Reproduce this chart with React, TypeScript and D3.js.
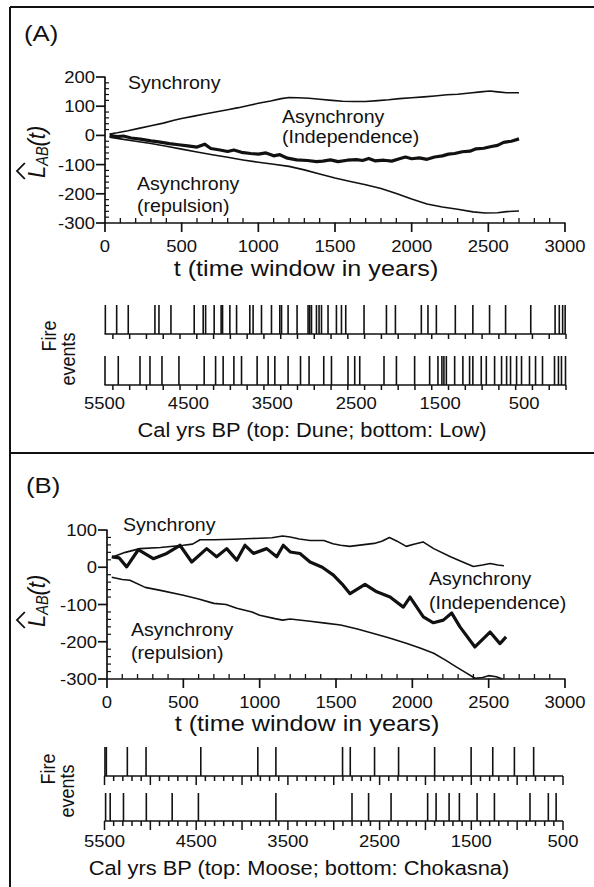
import React from 'react';
import * as d3 from 'd3';

const FONT = '"Liberation Sans", Arial, Helvetica, sans-serif';
const SX = 1.12;
const INK = '#111';

// ---------- Panel A data ----------
const aSynchrony: [number, number][] = [[30,5],[80,9],[150,16],[220,24],[300,33],[380,42],[450,52],[500,58],[580,66],[650,73],[720,80],[800,88],[870,95],[950,104],[1000,110],[1080,118],[1150,126],[1200,130],[1260,129],[1330,127],[1400,124],[1480,120],[1550,117],[1620,116],[1700,116],[1780,119],[1850,122],[1920,126],[2000,129],[2080,132],[2150,135],[2230,139],[2300,141],[2380,145],[2450,149],[2510,152],[2560,149],[2620,146],[2700,146]];
const aIndependence: [number, number][] = [[30,0],[80,-4],[120,-2],[170,-9],[230,-13],[300,-19],[350,-22],[420,-28],[480,-32],[540,-36],[600,-40],[650,-30],[690,-45],[750,-50],[800,-55],[840,-50],[890,-58],[950,-62],[1000,-64],[1050,-60],[1100,-70],[1140,-66],[1190,-78],[1250,-84],[1320,-86],[1380,-90],[1420,-88],[1470,-84],[1520,-90],[1580,-85],[1640,-83],[1680,-86],[1720,-79],[1760,-87],[1820,-85],[1870,-88],[1920,-80],[1960,-74],[2000,-80],[2050,-77],[2100,-82],[2150,-74],[2200,-70],[2240,-64],[2280,-62],[2330,-56],[2380,-54],[2420,-46],[2470,-44],[2520,-38],[2560,-34],[2600,-24],[2650,-20],[2700,-12]];
const aRepulsion: [number, number][] = [[30,-6],[100,-12],[200,-20],[300,-28],[400,-37],[500,-47],[600,-57],[700,-66],[800,-75],[900,-84],[1000,-92],[1100,-99],[1200,-106],[1300,-118],[1400,-132],[1500,-146],[1600,-158],[1700,-169],[1800,-182],[1900,-199],[2000,-218],[2100,-235],[2200,-245],[2300,-253],[2400,-262],[2480,-266],[2560,-265],[2620,-261],[2700,-259]];

// ---------- Panel B data ----------
const bSynchrony: [number, number][] = [[40,28],[120,40],[216,50],[350,53],[500,59],[560,62],[610,74],[700,74],[830,75],[950,77],[1080,79],[1150,84],[1200,81],[1260,76],[1330,72],[1420,72],[1480,63],[1530,59],[1590,56],[1670,60],[1750,64],[1800,70],[1850,80],[1900,70],[1960,56],[2010,62],[2070,68],[2140,50],[2250,28],[2330,14],[2400,2],[2460,6],[2510,10],[2560,6],[2600,4]];
const bIndependence: [number, number][] = [[31,28],[80,25],[129,1],[205,47],[303,23],[391,37],[478,59],[555,14],[653,50],[718,28],[784,50],[850,19],[904,59],[959,37],[1046,50],[1112,28],[1155,59],[1200,41],[1264,37],[1330,14],[1410,0],[1483,-21],[1540,-45],[1592,-71],[1690,-46],[1767,-66],[1854,-80],[1941,-107],[1985,-80],[2072,-133],[2138,-149],[2203,-142],[2258,-123],[2312,-160],[2410,-214],[2509,-174],[2574,-205],[2614,-187]];
const bRepulsion: [number, number][] = [[31,-27],[100,-33],[150,-35],[250,-54],[350,-62],[500,-75],[600,-85],[700,-97],[780,-100],[850,-110],[950,-120],[1000,-129],[1100,-138],[1150,-142],[1200,-139],[1330,-145],[1430,-150],[1530,-155],[1640,-166],[1740,-177],[1850,-190],[1960,-204],[2050,-217],[2140,-231],[2220,-250],[2290,-268],[2350,-283],[2410,-298],[2460,-296],[2500,-291],[2550,-294],[2590,-300]];

// ---------- Fire events (cal yrs BP) ----------
const duneEvents = [5490,5355,5217,4899,4851,4708,4431,4324,4295,4193,4110,4093,4006,3926,3768,3729,3629,3510,3411,3390,3312,3205,3074,3054,3033,2974,2943,2914,2836,2736,2676,2625,2407,2140,2033,1724,1645,1545,1319,1110,911,720,420,130,80,40,10];
const lowEvents = [5494,5336,5077,4958,4815,4613,4312,4176,4086,3958,3867,3681,3550,3470,3312,3164,3062,2887,2795,2598,2518,2458,2169,2021,1804,1625,1526,1479,1455,1426,1327,1229,1149,1110,1010,950,851,768,708,661,589,530,435,363,280,137,90,54,6];
const mooseEvents = [5495,5480,5251,5047,4450,3828,3631,2904,2820,2555,2293,1900,1502,1266,1030,820];
const chokasnaEvents = [5488,5438,5293,5044,4762,4476,3631,2801,2620,2375,1976,1884,1742,1630,1437,1248,860,660,575];

// ---------- Tick labels ----------
const tTicks = [0, 500, 1000, 1500, 2000, 2500, 3000];
const aYTicks = [200, 100, 0, -100, -200, -300];
const bYTicks = [100, 0, -100, -200, -300];
const bpTicks = [5500, 4500, 3500, 2500, 1500, 500];

function Txt({ x, y, size, anchor = 'start', children }: any) {
  return (
    <text transform={`translate(${x},${y}) scale(${SX},1)`} fontSize={size} textAnchor={anchor} fontFamily={FONT} fill={INK}>
      {children}
    </text>
  );
}

function VTxt({ x, y, size, children }: any) {
  return (
    <text transform={`translate(${x},${y}) scale(${SX},1) rotate(-90)`} fontSize={size} textAnchor="middle" fontFamily={FONT} fill={INK}>
      {children}
    </text>
  );
}

function YLabel({ x, y }: any) {
  return (
    <g transform={`translate(${x},${y}) scale(${SX},1) rotate(-90)`}>
      <text x={-26} y={0} fontSize={22} fontStyle="italic" fontFamily={FONT} fill={INK}>
        L<tspan fontSize={14.5} dy={3}>AB</tspan><tspan dy={-3}>(t)</tspan>
      </text>
      <path d="M -27 -18 L -19 -25 L -11 -18" fill="none" stroke={INK} strokeWidth={1.7} />
    </g>
  );
}

function LPlot({ x, y, yTicks, yMinorStep, sync, indep, rep }: any) {
  const [x0, x1] = x.range();
  const [y0, y1] = y.range();
  const line = d3.line<[number, number]>().x((d) => x(d[0])).y((d) => y(d[1]));
  const minorX = d3.range(0, 3001, 100).filter((v) => v % 500 !== 0);
  const yd = y.domain();
  const minorY = d3.range(yd[0], yd[1] + 1, yMinorStep).filter((v) => v % 100 !== 0);
  return (
    <g>
      <path d={line(rep) || ''} fill="none" stroke={INK} strokeWidth={1.6} strokeLinejoin="round" />
      <path d={line(sync) || ''} fill="none" stroke={INK} strokeWidth={1.6} strokeLinejoin="round" />
      <path d={line(indep) || ''} fill="none" stroke={INK} strokeWidth={3.2} strokeLinejoin="round" />
      <line x1={x0} x2={x1} y1={y0} y2={y0} stroke={INK} strokeWidth={1.7} />
      {tTicks.map((t) => (
        <g key={'xt' + t}>
          <line x1={x(t)} x2={x(t)} y1={y0 - 0.5} y2={y0 + 9} stroke={INK} strokeWidth={1.7} />
          <Txt x={x(t)} y={y0 + 29} size={16.5} anchor="middle">{t}</Txt>
        </g>
      ))}
      {minorX.map((t) => (
        <line key={'xm' + t} x1={x(t)} x2={x(t)} y1={y0} y2={y0 - 5} stroke={INK} strokeWidth={1.3} />
      ))}
      <line x1={x0} x2={x0} y1={y0} y2={y1} stroke={INK} strokeWidth={1.7} />
      {yTicks.map((v: number) => (
        <g key={'yt' + v}>
          <line x1={x0 - 9} x2={x0 + 0.5} y1={y(v)} y2={y(v)} stroke={INK} strokeWidth={1.7} />
          <Txt x={x0 - 10} y={y(v) + 6} size={16.5} anchor="end">{v}</Txt>
        </g>
      ))}
      {minorY.map((v: number) => (
        <line key={'ym' + v} x1={x0} x2={x0 + 4} y1={y(v)} y2={y(v)} stroke={INK} strokeWidth={1.2} />
      ))}
    </g>
  );
}

function FireRow({ fx, base, h, events, minorStep, midStep }: any) {
  const d = fx.domain();
  const hi = d[0], lo = d[1];
  const ticks = d3.range(lo, hi + 1, minorStep);
  return (
    <g>
      <line x1={fx(hi)} x2={fx(lo)} y1={base} y2={base} stroke={INK} strokeWidth={1.7} />
      {ticks.map((v: number) => {
        const major = (hi - v) % midStep === 0;
        return <line key={'ft' + v} x1={fx(v)} x2={fx(v)} y1={base} y2={base + (major ? 9 : 5)} stroke={INK} strokeWidth={1.5} />;
      })}
      {events.map((v: number, i: number) => (
        <line key={'ev' + i} x1={fx(v)} x2={fx(v)} y1={base} y2={base - h} stroke={INK} strokeWidth={1.6} />
      ))}
    </g>
  );
}

export default function App() {
  if (typeof document !== 'undefined') document.body.style.margin = '0';
  const xA = d3.scaleLinear().domain([0, 3000]).range([105, 565]);
  const yA = d3.scaleLinear().domain([-300, 200]).range([223, 77]);
  const xB = d3.scaleLinear().domain([0, 3000]).range([107, 565]);
  const yB = d3.scaleLinear().domain([-300, 100]).range([679, 530]);
  const fA = d3.scaleLinear().domain([5500, 0]).range([104.5, 566]);
  const fB = d3.scaleLinear().domain([5500, 500]).range([104.5, 563]);

  return (
    <svg width={594} height={887} style={{ position: 'absolute', left: 0, top: 0, display: 'block', background: '#fff' }}>
      <rect x={0} y={0} width={594} height={887} fill="#fff" />
      <line x1={10} x2={594} y1={7} y2={7} stroke={INK} strokeWidth={2} />
      <line x1={10} x2={10} y1={7} y2={887} stroke={INK} strokeWidth={2} />
      <line x1={10} x2={594} y1={453} y2={453} stroke={INK} strokeWidth={2} />

      {/* ===== Panel A ===== */}
      <Txt x={24} y={41} size={23}>(A)</Txt>
      <LPlot x={xA} y={yA} yTicks={aYTicks} yMinorStep={20} sync={aSynchrony} indep={aIndependence} rep={aRepulsion} />
      <YLabel x={45} y={152} />
      <Txt x={128} y={89} size={17.5}>Synchrony</Txt>
      <Txt x={282} y={123} size={17.5}>Asynchrony</Txt>
      <Txt x={282} y={143} size={17.5}>(Independence)</Txt>
      <Txt x={137} y={190} size={17.5}>Asynchrony</Txt>
      <Txt x={137} y={212} size={17.5}>(repulsion)</Txt>
      <Txt x={306} y={276} size={22.5} anchor="middle">t (time window in years)</Txt>

      <FireRow fx={fA} base={334} h={29} events={duneEvents} minorStep={200} midStep={1000} />
      <FireRow fx={fA} base={385} h={29} events={lowEvents} minorStep={200} midStep={1000} />
      {bpTicks.map((v) => (
        <Txt key={'fa' + v} x={fA(v)} y={409} size={16.5} anchor="middle">{v}</Txt>
      ))}
      <VTxt x={56} y={336} size={18}>Fire</VTxt>
      <VTxt x={75} y={359} size={18}>events</VTxt>
      <Txt x={312} y={437} size={19.5} anchor="middle">Cal yrs BP (top: Dune; bottom: Low)</Txt>

      {/* ===== Panel B ===== */}
      <Txt x={26} y={493} size={23}>(B)</Txt>
      <LPlot x={xB} y={yB} yTicks={bYTicks} yMinorStep={20} sync={bSynchrony} indep={bIndependence} rep={bRepulsion} />
      <YLabel x={45} y={601} />
      <Txt x={123} y={531} size={17.5}>Synchrony</Txt>
      <Txt x={131} y={636} size={17.5}>Asynchrony</Txt>
      <Txt x={131} y={659} size={17.5}>(repulsion)</Txt>
      <Txt x={429} y={585} size={17.5}>Asynchrony</Txt>
      <Txt x={429} y={609} size={17.5}>(Independence)</Txt>
      <Txt x={307} y={731} size={22.5} anchor="middle">t (time window in years)</Txt>

      <FireRow fx={fB} base={776} h={29} events={mooseEvents} minorStep={100} midStep={500} />
      <FireRow fx={fB} base={821} h={28} events={chokasnaEvents} minorStep={100} midStep={500} />
      {bpTicks.map((v) => (
        <Txt key={'fb' + v} x={fB(v)} y={847} size={16.5} anchor="middle">{v}</Txt>
      ))}
      <VTxt x={55} y={769} size={18}>Fire</VTxt>
      <VTxt x={74} y={791} size={18}>events</VTxt>
      <Txt x={299} y={875} size={19.5} anchor="middle">Cal yrs BP (top: Moose; bottom: Chokasna)</Txt>
    </svg>
  );
}
